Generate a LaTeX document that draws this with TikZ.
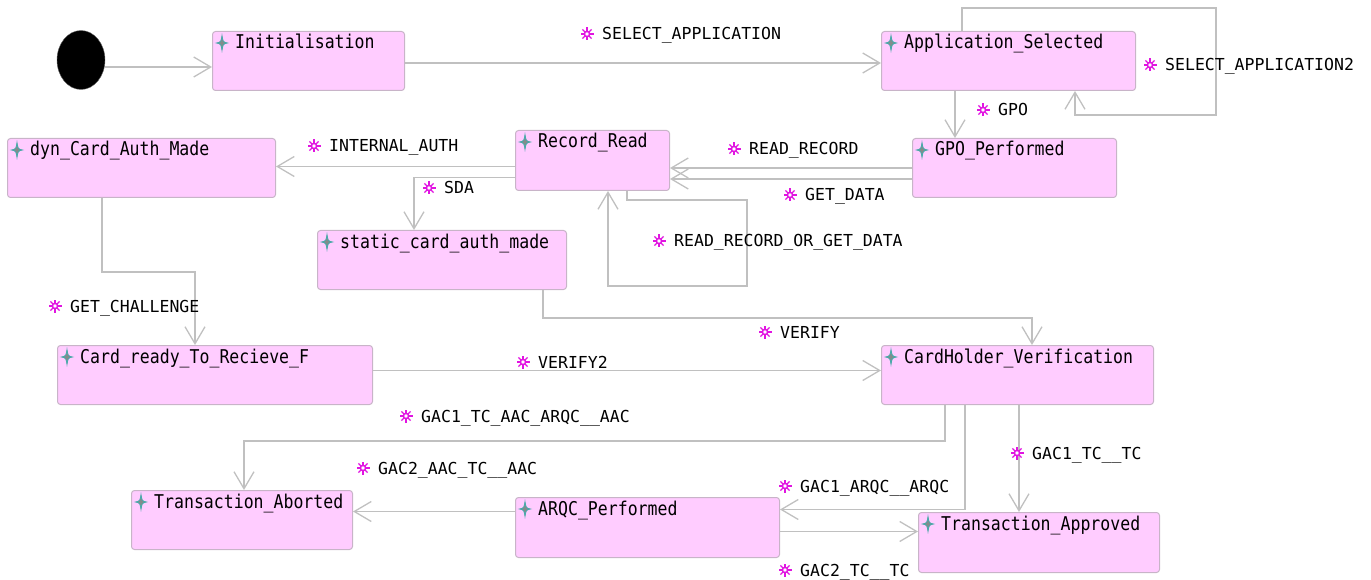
\documentclass[tikz,border=0pt]{standalone}
\usepackage{fontspec}
\newfontfamily\titlefont[FakeStretch=0.87]{DejaVu Sans Mono}
\newfontfamily\evfont{DejaVu Sans Mono}
\usetikzlibrary{arrows.meta,shapes.geometric}

\definecolor{statefill}{RGB}{255,204,255}
\definecolor{stateedge}{RGB}{200,180,200}
\definecolor{linegray}{RGB}{192,192,192}
\definecolor{evcolor}{RGB}{225,20,225}
\definecolor{markfill}{RGB}{130,140,140}
\definecolor{markedge}{RGB}{70,170,170}

\tikzset{
  statebox/.style={draw=stateedge, fill=statefill, line width=1pt, rounded corners=3pt,
    anchor=north west, inner sep=0pt},
  statetitle/.style={anchor=base west, inner sep=0pt, font=\titlefont\fontsize{19}{22}\selectfont},
  evtext/.style={anchor=base west, inner sep=0pt, font=\evfont\fontsize{16.5}{19}\selectfont},
  trans/.style={draw=linegray, line width=1.3pt, -{Straight Barb[length=17pt,width=20pt]}},
  evstar/.pic={
    \foreach \a in {0,45,...,315} \draw[evcolor, line width=1.3pt] (\a:2pt) -- (\a:6.5pt);
    \draw[evcolor, line width=1.5pt, fill=white] (0,0) circle (2.6pt);
  },
  statemark/.pic={
    \filldraw[draw=markedge, fill=markfill, line width=0.8pt]
      (0pt,-7.5pt) .. controls (1pt,-1pt) .. (5.5pt,0pt)
      .. controls (1pt,1pt) .. (0pt,7.5pt)
      .. controls (-1pt,1pt) .. (-5.5pt,0pt)
      .. controls (-1pt,-1pt) .. cycle;
  },
}

% state box: name, x, y, width, height, title
\newcommand{\umlstate}[6]{%
  \node[statebox, minimum width=#4pt, minimum height=#5pt] (#1) at (#2,#3) {};
  \path (#2+10,#3+12) pic{statemark};
  \node[statetitle] (#1-t) at (#2+23,#3+18) {#6};
}
% event label: name, x, y, text
\newcommand{\evlabel}[4]{%
  \path (#2,#3) pic{evstar};
  \node[evtext] (#1) at (#2+15,#3+6) {#4};
}

\begin{document}
\begin{tikzpicture}[x=1pt,y=-1pt]
\useasboundingbox (0,0) rectangle (1371,580);

% states
\node[ellipse, fill=black, draw=black!60, minimum width=48pt, minimum height=59pt, inner sep=0pt]
  (init0) at (81,60) {};
\umlstate{init}{212}{31}{192}{59}{Initialisation}
\umlstate{appsel}{881}{31}{254}{59}{Application\_Selected}
\umlstate{dyn}{7}{138}{268}{59}{dyn\_Card\_Auth\_Made}
\umlstate{rr}{515}{130}{154}{60}{Record\_Read}
\umlstate{gpo}{912}{138}{204}{59}{GPO\_Performed}
\umlstate{static}{317}{230}{249}{59}{static\_card\_auth\_made}
\umlstate{card}{57}{345}{315}{59}{Card\_ready\_To\_Recieve\_F}
\umlstate{chv}{881}{345}{272}{59}{CardHolder\_Verification}
\umlstate{abort}{131}{490}{221}{59}{Transaction\_Aborted}
\umlstate{arqc}{515}{497}{264}{60}{ARQC\_Performed}
\umlstate{appr}{918}{512}{241}{60}{Transaction\_Approved}

% transitions
\draw[trans] ([yshift=-7pt]init0.east) coordinate (p0) -- (p0 -| init.west);
\draw[trans] ([yshift=-2pt]init.east) coordinate (p1) -- (p1 -| appsel.west);
\draw[trans] ([xshift=81pt]appsel.north west) -- ++(0,-23) -| (1216,115)
  -| ([xshift=194pt]appsel.south west);
\draw[trans] ([xshift=74pt]appsel.south west) coordinate (p2) -- (p2 |- gpo.north);
\draw[trans] (gpo.west) -- (gpo.west -| rr.east);
\draw[trans] ([yshift=-11pt]gpo.west) coordinate (p3) -- (p3 -| rr.east);
\draw[trans] ([yshift=-6pt]rr.west) coordinate (p4) -- (p4 -| dyn.east);
\draw[trans] ([yshift=-17pt]rr.west) -| ([xshift=97pt]static.north west);
\draw[trans] ([xshift=112pt]rr.south west) -- ++(0,9) -| (747,286)
  -| ([xshift=93pt]rr.south west);
\draw[trans] ([xshift=95pt]dyn.south west) -- ++(0,74) -| ([xshift=138pt]card.north west);
\draw[trans] ([xshift=226pt]static.south west) -- ++(0,28) -| ([xshift=151pt]chv.north west);
\draw[trans] ([yshift=4.5pt]card.east) coordinate (p5) -- (p5 -| chv.west);
\draw[trans] ([xshift=64pt]chv.south west) -- ++(0,36) -| ([xshift=113pt]abort.north west);
\draw[trans] ([xshift=84pt]chv.south west) |- ([yshift=18pt]arqc.east);
\draw[trans] ([xshift=138pt]chv.south west) coordinate (p6) -- (p6 |- appr.north);
\draw[trans] ([yshift=16pt]arqc.west) coordinate (p7) -- (p7 -| abort.east);
\draw[trans] ([yshift=-4pt]arqc.east) coordinate (p8) -- (p8 -| appr.west);

% events
\evlabel{lselapp}{587}{34}{SELECT\_APPLICATION}
\evlabel{lselapp2}{1150}{65}{SELECT\_APPLICATION2}
\evlabel{lgpo}{983}{110}{GPO}
\evlabel{lintauth}{314}{146}{INTERNAL\_AUTH}
\evlabel{lreadrec}{734}{149}{READ\_RECORD}
\evlabel{lgetdata}{790}{195}{GET\_DATA}
\evlabel{lsda}{429}{188}{SDA}
\evlabel{lrrgd}{659}{241}{READ\_RECORD\_OR\_GET\_DATA}
\evlabel{lchall}{55}{306}{GET\_CHALLENGE}
\evlabel{lverify}{765}{332}{VERIFY}
\evlabel{lverify2}{523}{362}{VERIFY2}
\evlabel{lgacaac}{406}{416}{GAC1\_TC\_AAC\_ARQC\_\_AAC}
\evlabel{lgactwo}{363}{468}{GAC2\_AAC\_TC\_\_AAC}
\evlabel{lgacarqc}{785}{486}{GAC1\_ARQC\_\_ARQC}
\evlabel{lgactc}{1017}{453}{GAC1\_TC\_\_TC}
\evlabel{lgac2tc}{785}{570}{GAC2\_TC\_\_TC}
\end{tikzpicture}
\end{document}
